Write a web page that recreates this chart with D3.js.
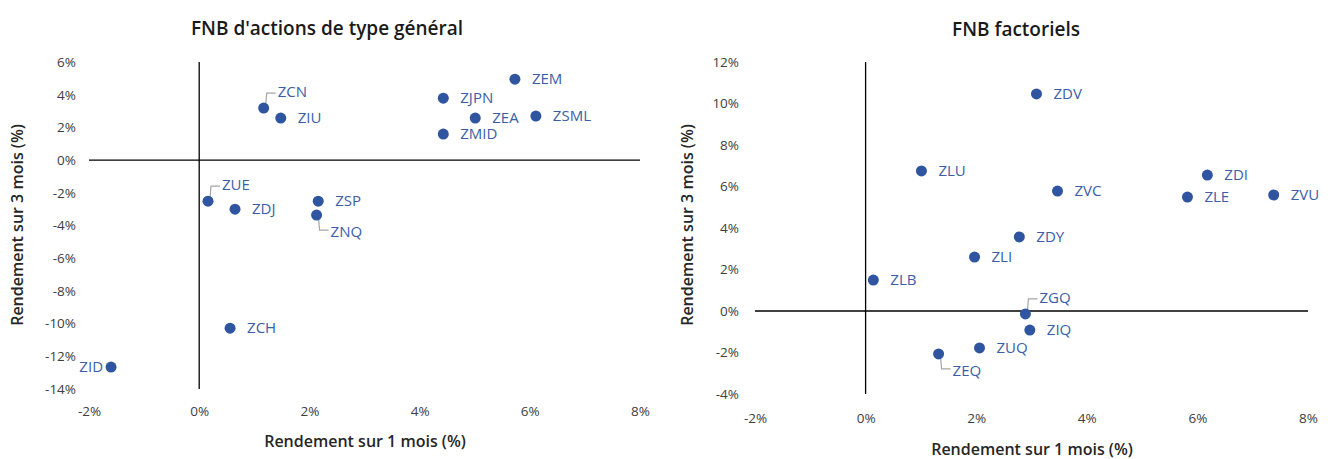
<!DOCTYPE html>
<html>
<head>
<meta charset="utf-8">
<script src="https://cdn.jsdelivr.net/npm/d3@7"></script>
<style>
  body { margin: 0; background: #fff; }
  svg text { font-family: "Open Sans", "Noto Sans", sans-serif; }
</style>
</head>
<body>
<div id="chart"></div>
<script>
"use strict";

// FNB d'actions de type general
var generalNames = ["ZCN", "ZIU", "ZJPN", "ZEM", "ZEA", "ZSML", "ZMID", "ZUE", "ZDJ", "ZSP", "ZNQ", "ZCH", "ZID"];
var general1m = [1.17, 1.48, 4.43, 5.73, 5.01, 6.11, 4.43, 0.16, 0.65, 2.16, 2.13, 0.56, -1.60];
var general3m = [3.18, 2.57, 3.79, 4.95, 2.57, 2.69, 1.59, -2.51, -3.00, -2.51, -3.36, -10.28, -12.66];

// FNB factoriels
var factorNames = ["ZDV", "ZLU", "ZVC", "ZDI", "ZLE", "ZVU", "ZDY", "ZLI", "ZLB", "ZGQ", "ZIQ", "ZUQ", "ZEQ"];
var factor1m = [3.09, 1.01, 3.47, 6.18, 5.82, 7.38, 2.78, 1.97, 0.14, 2.89, 2.97, 2.06, 1.32];
var factor3m = [10.46, 6.75, 5.78, 6.55, 5.49, 5.59, 3.57, 2.60, 1.49, -0.14, -0.92, -1.78, -2.07];

var generalXTicks = [-2, 0, 2, 4, 6, 8];
var generalYTicks = [6, 4, 2, 0, -2, -4, -6, -8, -10, -12, -14];
var factorXTicks = [-2, 0, 2, 4, 6, 8];
var factorYTicks = [12, 10, 8, 6, 4, 2, 0, -2, -4];

var titles = ["FNB d'actions de type général", "FNB factoriels"];
var xTitle = "Rendement sur 1 mois (%)";
var yTitle = "Rendement sur 3 mois (%)";

// where a label sits if not on the right of its point
var labelPlace = { ZCN: "upRight", ZUE: "upRight", ZNQ: "downRight", ZID: "left", ZGQ: "upRight", ZEQ: "downRight" };

var W = 1328, H = 459;
var dotColor = "#2f55a0", labelColor = "#3a5ea8", leaderColor = "#a6a6a6", tickColor = "#404040";

var svg = d3.select("#chart").append("svg").attr("width", W).attr("height", H);

function drawPanel(opt) {
    var x = d3.scaleLinear().domain(opt.xDomain).range(opt.xRange);
    var y = d3.scaleLinear().domain(opt.yDomain).range(opt.yRange);
    var g = svg.append("g");

    g.append("text").attr("x", opt.titleX).attr("y", opt.titleY)
        .attr("text-anchor", "middle").attr("font-size", 19).attr("font-weight", 600).attr("fill", "#1a1a1a")
        .text(opt.title);

    // y tick labels on the left
    var yAxis = d3.axisLeft(y).tickValues(opt.yTicks).tickSize(0).tickPadding(0)
        .tickFormat(function (d) { return d + "%"; });
    var ya = g.append("g").attr("transform", "translate(" + opt.yLabelX + ",0)").call(yAxis);
    ya.select(".domain").remove();
    ya.selectAll("text").attr("font-size", 13.5).attr("fill", tickColor).attr("font-family", "Open Sans");

    // x tick labels at bottom
    var xAxis = d3.axisBottom(x).tickValues(opt.xTicks).tickSize(0).tickPadding(0)
        .tickFormat(function (d) { return d + "%"; });
    var xa = g.append("g").attr("transform", "translate(0," + opt.xLabelY + ")").call(xAxis);
    xa.select(".domain").remove();
    xa.selectAll("text").attr("font-size", 13.5).attr("fill", tickColor).attr("font-family", "Open Sans");

    // axis lines crossing at zero
    g.append("line").attr("x1", x(opt.xDomain[0])).attr("x2", x(opt.xDomain[1]))
        .attr("y1", y(0)).attr("y2", y(0)).attr("stroke", "#000").attr("stroke-width", 1.3);
    g.append("line").attr("x1", x(0)).attr("x2", x(0))
        .attr("y1", y(opt.yDomain[0])).attr("y2", y(opt.yDomain[1])).attr("stroke", "#000").attr("stroke-width", 1.3);

    // axis titles
    g.append("text").attr("x", opt.xTitleX).attr("y", opt.xTitleY).attr("text-anchor", "middle")
        .attr("font-size", 16).attr("font-weight", 600).attr("fill", "#262626").text(xTitle);
    g.append("text").attr("transform", "translate(" + opt.yTitleX + "," + opt.yTitleY + ") rotate(-90)")
        .attr("text-anchor", "middle").attr("font-size", 16).attr("font-weight", 600).attr("fill", "#262626").text(yTitle);

    var pts = opt.names.map(function (n, i) { return { name: n, vx: opt.xs[i], vy: opt.ys[i] }; });

    // leader lines
    pts.forEach(function (p) {
        var px = x(p.vx), py = y(p.vy), place = labelPlace[p.name];
        if (place === "upRight") {
            g.append("path").attr("d", "M" + (px + 2) + "," + (py - 3) + "L" + (px + 3) + "," + (py - 15) + "L" + (px + 12) + "," + (py - 15))
                .attr("fill", "none").attr("stroke", leaderColor).attr("stroke-width", 1.2);
        } else if (place === "downRight") {
            g.append("path").attr("d", "M" + (px + 2) + "," + (py + 3) + "L" + (px + 3) + "," + (py + 15) + "L" + (px + 12) + "," + (py + 15))
                .attr("fill", "none").attr("stroke", leaderColor).attr("stroke-width", 1.2);
        }
    });

    g.selectAll("circle.dot").data(pts).enter().append("circle").attr("class", "dot")
        .attr("cx", function (d) { return x(d.vx); })
        .attr("cy", function (d) { return y(d.vy); })
        .attr("r", 5.5).attr("fill", dotColor);

    g.selectAll("text.lbl").data(pts).enter().append("text").attr("class", "lbl")
        .attr("font-size", 15).attr("fill", labelColor).attr("dy", "0.35em")
        .attr("x", function (d) {
            var place = labelPlace[d.name];
            if (place === "left") return x(d.vx) - 8;
            if (place === "upRight" || place === "downRight") return x(d.vx) + 14;
            return x(d.vx) + 17;
        })
        .attr("y", function (d) {
            var place = labelPlace[d.name];
            if (place === "upRight") return y(d.vy) - 16;
            if (place === "downRight") return y(d.vy) + 17;
            return y(d.vy);
        })
        .attr("text-anchor", function (d) { return labelPlace[d.name] === "left" ? "end" : "start"; })
        .text(function (d) { return d.name; });
}

drawPanel({
    title: titles[0], titleX: 327, titleY: 35,
    names: generalNames, xs: general1m, ys: general3m,
    xDomain: [-2, 8], xRange: [89, 640],
    yDomain: [-14, 6], yRange: [389, 62],
    xTicks: generalXTicks, yTicks: generalYTicks,
    yLabelX: 76, xLabelY: 406,
    xTitleX: 365, xTitleY: 447, yTitleX: 23, yTitleY: 225
});

drawPanel({
    title: titles[1], titleX: 1016, titleY: 36,
    names: factorNames, xs: factor1m, ys: factor3m,
    xDomain: [-2, 8], xRange: [755, 1308],
    yDomain: [-4, 12], yRange: [394, 62],
    xTicks: factorXTicks, yTicks: factorYTicks,
    yLabelX: 739, xLabelY: 413,
    xTitleX: 1032, xTitleY: 455, yTitleX: 693, yTitleY: 225
});
</script>
</body>
</html>
